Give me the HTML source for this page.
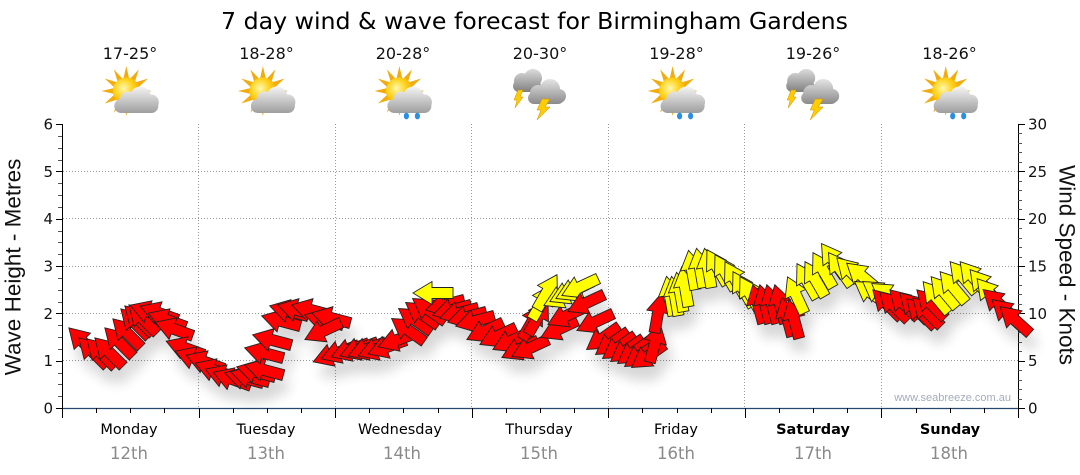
<!DOCTYPE html>
<html><head><meta charset="utf-8"><style>
html,body{margin:0;padding:0;background:#fff;}
svg{display:block;}
.r{fill:#ff0000}.y{fill:#ffff00}
.num{font-family:"DejaVu Sans","Liberation Sans",sans-serif;font-size:15px;fill:#111}
.day{font-family:"DejaVu Sans","Liberation Sans",sans-serif;font-size:14.5px;fill:#000;text-anchor:middle}
.dt{font-family:"DejaVu Sans","Liberation Sans",sans-serif;font-size:16.5px;fill:#8a8a8a;text-anchor:middle}
.tmp{font-family:"DejaVu Sans","Liberation Sans",sans-serif;font-size:16px;fill:#111;text-anchor:middle}
.ax{font-family:"Liberation Sans",Arial,sans-serif;font-size:22.5px;fill:#111;text-anchor:middle}
</style></head><body>
<svg id="chart" width="1080" height="475" viewBox="0 0 1080 475" xmlns="http://www.w3.org/2000/svg">
<defs>
<polygon id="a" points="-20,-5.5 1,-5.5 1,-11.5 20,0 1,11.5 1,5.5 -20,5.5" stroke="#222" stroke-width="0.9" stroke-linejoin="miter"/>
<filter id="sh" x="-10%" y="-30%" width="130%" height="180%">
<feGaussianBlur in="SourceAlpha" stdDeviation="6"/>
<feOffset dx="5" dy="13"/>
<feComponentTransfer><feFuncA type="linear" slope="0.16"/></feComponentTransfer>
<feMerge><feMergeNode/><feMergeNode in="SourceGraphic"/></feMerge>
</filter>
<radialGradient id="sg" cx="0.4" cy="0.4" r="0.7"><stop offset="0" stop-color="#fff8b0"/><stop offset="0.5" stop-color="#ffd21a"/><stop offset="1" stop-color="#f0a000"/></radialGradient>
<linearGradient id="cg" gradientUnits="userSpaceOnUse" x1="0" y1="-5" x2="0" y2="22"><stop offset="0" stop-color="#f6f6f6"/><stop offset="1" stop-color="#9e9e9e"/></linearGradient>
<linearGradient id="tg1" gradientUnits="userSpaceOnUse" x1="0" y1="70" x2="0" y2="93"><stop offset="0" stop-color="#d8d8d8"/><stop offset="1" stop-color="#7c7c7c"/></linearGradient>
<linearGradient id="tg2" gradientUnits="userSpaceOnUse" x1="0" y1="79" x2="0" y2="104"><stop offset="0" stop-color="#e4e4e4"/><stop offset="1" stop-color="#8a8a8a"/></linearGradient>
<g id="sunc">
<polygon points="25,0 11.5,3.1 21.65,12.5 8.4,8.4 12.5,21.65 3.1,11.5 0,25 -3.1,11.5 -12.5,21.65 -8.4,8.4 -21.65,12.5 -11.5,3.1 -25,0 -11.5,-3.1 -21.65,-12.5 -8.4,-8.4 -12.5,-21.65 -3.1,-11.5 0,-25 3.1,-11.5 12.5,-21.65 8.4,-8.4 21.65,-12.5 11.5,-3.1" fill="#f2ac10"/>
<circle r="13.5" fill="url(#sg)"/>
<g fill="url(#cg)">
<rect x="-12" y="8" width="44" height="14" rx="7"/>
<circle cx="2" cy="9" r="8.5"/>
<circle cx="14" cy="6" r="10.5"/>
<circle cx="25" cy="11" r="7.5"/>
</g>
</g>
<g id="rain">
<ellipse cx="7" cy="25" rx="2.6" ry="3.4" fill="#2a8fe0"/>
<ellipse cx="18" cy="25" rx="2.6" ry="3.4" fill="#2a8fe0"/>
</g>
<g id="thun">
<g fill="url(#tg1)">
<rect x="-27" y="80" width="28" height="12" rx="6"/>
<circle cx="-18" cy="81" r="8"/>
<circle cx="-7" cy="78" r="9"/>
</g>
<polygon points="-22,90 -17,90 -20,97 -17,97 -25,108 -23,100 -26,100" fill="#ffcc00" stroke="#c99000" stroke-width="0.5"/>
<g fill="url(#tg2)">
<rect x="-12" y="92" width="36" height="12" rx="6"/>
<circle cx="-2" cy="93" r="8"/>
<circle cx="10" cy="89" r="10"/>
<circle cx="19" cy="96" r="7"/>
</g>
<polygon points="2,99 10,99 5,107 10,107 -3,120 1,110 -3,110" fill="#ffcc00" stroke="#c99000" stroke-width="0.5"/>
</g>
</defs>

<text x="221" y="29" font-family="DejaVu Sans, Liberation Sans, sans-serif" font-size="23.5" fill="#000" textLength="627" lengthAdjust="spacingAndGlyphs">7 day wind &amp; wave forecast for Birmingham Gardens</text>

<text class="tmp" x="130" y="59">17-25°</text>
<text class="tmp" x="266.5" y="59">18-28°</text>
<text class="tmp" x="403" y="59">20-28°</text>
<text class="tmp" x="540" y="59">20-30°</text>
<text class="tmp" x="676.5" y="59">19-28°</text>
<text class="tmp" x="813" y="59">19-26°</text>
<text class="tmp" x="949.5" y="59">18-26°</text>

<use href="#sunc" transform="translate(126.3 91)"/>
<use href="#sunc" transform="translate(262.9 91)"/>
<use href="#sunc" transform="translate(399.4 91)"/>
<use href="#rain" transform="translate(399.4 91)"/>
<use href="#thun" transform="translate(540 0)"/>
<use href="#sunc" transform="translate(672.6 91)"/>
<use href="#rain" transform="translate(672.6 91)"/>
<use href="#thun" transform="translate(813.2 0)"/>
<use href="#sunc" transform="translate(945.7 91)"/>
<use href="#rain" transform="translate(945.7 91)"/>

<g stroke="#9a9a9a" stroke-width="1" stroke-dasharray="1 2" fill="none">
<path d="M63 360.5H1018M63 313.5H1018M63 266.5H1018M63 218.5H1018M63 171.5H1018"/>
<path d="M198.5 124V408M335.5 124V408M471.5 124V408M608.5 124V408M744.5 124V408M881.5 124V408"/>
</g>

<path d="M62.5 124V409" stroke="#000" stroke-width="1"/>
<path d="M1018.5 124V409" stroke="#000" stroke-width="1"/>
<path d="M62 408.5H1018" stroke="#24486e" stroke-width="1.2"/>
<path id="lt" stroke="#000"/>
<path id="lm" stroke="#555"/>
<path id="rt" stroke="#000"/>
<path id="rm" stroke="#555"/>
<path id="bt" stroke="#000"/>

<g class="num" text-anchor="end">
<text x="53" y="413.5">0</text><text x="53" y="366">1</text><text x="53" y="319">2</text><text x="53" y="271.5">3</text><text x="53" y="224">4</text><text x="53" y="177">5</text><text x="53" y="129.5">6</text>
</g>
<g class="num" text-anchor="start">
<text x="1028" y="413.5">0</text><text x="1028" y="366">5</text><text x="1028" y="319">10</text><text x="1028" y="271.5">15</text><text x="1028" y="224">20</text><text x="1028" y="177">25</text><text x="1028" y="129.5">30</text>
</g>

<text class="ax" transform="translate(20.5 267) rotate(-90)">Wave Height - Metres</text>
<text class="ax" transform="translate(1059.5 265) rotate(90)">Wind Speed - Knots</text>

<text x="1011" y="401" text-anchor="end" font-family="Liberation Sans, Arial, sans-serif" font-size="11" fill="#a4acbc">www.seabreeze.com.au</text>

<text class="day" x="129" y="434">Monday</text>
<text class="day" x="266" y="434">Tuesday</text>
<text class="day" x="400" y="434">Wednesday</text>
<text class="day" x="539" y="434">Thursday</text>
<text class="day" x="676" y="434">Friday</text>
<text class="day" x="813" y="434" font-weight="bold">Saturday</text>
<text class="day" x="950" y="434" font-weight="bold">Sunday</text>
<text class="dt" x="129" y="459">12th</text>
<text class="dt" x="266" y="459">13th</text>
<text class="dt" x="402" y="459">14th</text>
<text class="dt" x="539" y="459">15th</text>
<text class="dt" x="676" y="459">16th</text>
<text class="dt" x="813" y="459">17th</text>
<text class="dt" x="949" y="459">18th</text>

<g id="arr" filter="url(#sh)"></g>
</svg>
<script>
(function(){
var NS="http://www.w3.org/2000/svg";
function r(v){return Math.round(v)+0.5;}
var lt="",lm="",rt="",rm="",bt="",k,y,x;
for(k=0;k<=24;k++){y=r(408-11.8333*k);if(k%4==0)lt+="M56 "+y+"h6";else lm+="M58 "+y+"h4";}
for(k=0;k<=30;k++){y=r(408-9.4667*k);if(k%5==0)rt+="M1018 "+y+"h7";else rm+="M1018 "+y+"h4";}
for(k=0;k<=28;k++){x=r(62+34.1429*k);bt+="M"+x+" 408v"+(k%4==0?10:5);}
document.getElementById("lt").setAttribute("d",lt);
document.getElementById("lm").setAttribute("d",lm);
document.getElementById("rt").setAttribute("d",rt);
document.getElementById("rm").setAttribute("d",rm);
document.getElementById("bt").setAttribute("d",bt);
var G=[
["r",225,[83,342,93,352,101,353,109,352,119,342,127,333,135,323,139,320,143,319]],
["r",200,[149,312,159,313,167,320,174,329,185,348,194,358,205,362,214,370,224,376,232,379]],
["r",195,[244,378,250,377,256,372,264,370,264,353,272,340,281,321,289,311,297,310,311,310,324,320,331,318]],
["r",155,[323,331]],
["r",160,[332,355,340,352,350,350,359,349,367,349,377,349,387,347,397,340]],
["r",215,[408,330,415,320,422,314,429,310]],
["r",165,[445,305,452,310]],
["y",180,[433,293]],
["r",165,[459,313,467,317,475,321]],
["r",155,[485,331,498,336,511,341,520,349,530,348]],
["r",300,[532,322,538,317]],
["r",155,[559,329,566,316]],
["y",300,[542,302,547,292]],
["y",155,[562,297,568,293,574,290,580,287]],
["r",155,[586,303,595,322]],
["r",145,[603,338,612,343,619,347,627,350,634,352,641,355,648,356]],
["r",285,[655,343]],
["r",280,[658,313]],
["y",260,[670,296,675,296,680,292,685,287,692,270,700,268,708,268]],
["y",240,[717,267,725,272,735,279,743,289,750,294]],
["r",255,[758,304,765,304,772,304,780,304,787,317,794,319]],
["y",245,[796,295]],
["y",240,[807,281,815,279,823,270]],
["y",235,[833,260,840,269]],
["y",225,[851,272]],
["y",220,[862,276]],
["y",215,[871,293,879,293,888,295]],
["r",225,[887,304,894,306,904,304,914,307,921,313,927,312,931,304]],
["y",230,[936,297,944,292,953,287,963,277,973,277,983,285,990,294]],
["r",222,[998,303,1007,313,1015,320]]
];
var g=document.getElementById("arr");
G.forEach(function(s){
var p=s[2];
for(var i=0;i<p.length;i+=2){
var u=document.createElementNS(NS,"use");
u.setAttribute("href","#a");
u.setAttributeNS("http://www.w3.org/1999/xlink","xlink:href","#a");
u.setAttribute("class",s[0]);
u.setAttribute("transform","translate("+p[i]+" "+p[i+1]+") rotate("+s[1]+")");
g.appendChild(u);
}
});
})();
</script>
</body></html>
